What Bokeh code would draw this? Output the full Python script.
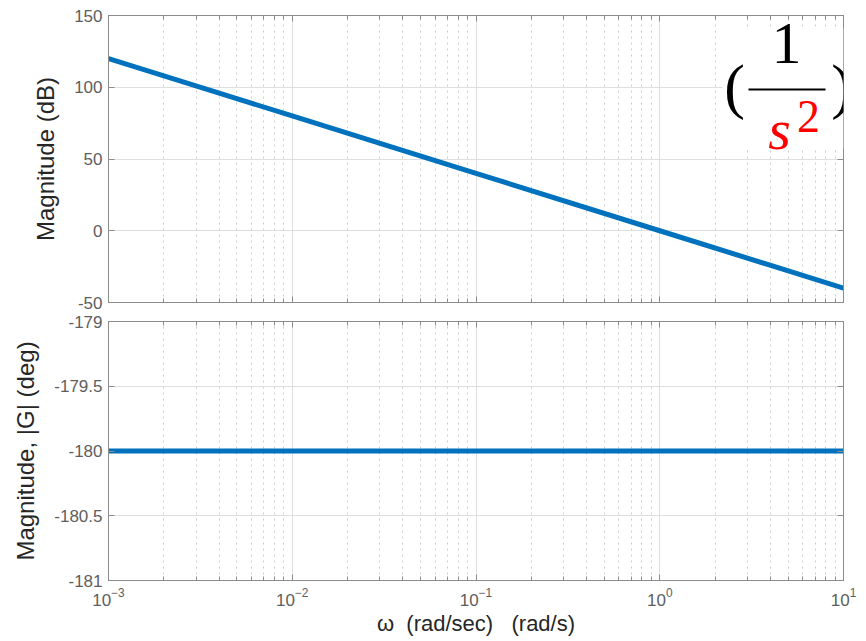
from bokeh.plotting import figure
from bokeh.layouts import column
from bokeh.models import (FixedTicker, LogAxis, LinearAxis, Label, BoxAnnotation,
                          LogTicker, Range1d)
from bokeh.embed import file_html
from bokeh.resources import INLINE

# ---- data ----
omega = [1e-3, 1e-2, 1e-1, 1e0, 1e1]
mag_db = [120, 80, 40, 0, -40]
phase_deg = [-180, -180, -180, -180, -180]
mag_ticks = [-50, 0, 50, 100, 150]
mag_tick_labels = ["-50", "0", "50", "100", "150"]
phase_ticks = [-181, -180.5, -180, -179.5, -179]
phase_tick_labels = ["-181", "-180.5", "-180", "-179.5", "-179"]

LINE = "#0072BD"
AXC = "#8c8c8c"
TICKC = "#5e5e5e"
LABC = "#262626"
FONT = "Liberation Sans"


def hide_labels(ax):
    ax.major_label_text_font_size = "1px"
    ax.major_label_text_alpha = 0
    ax.major_label_standoff = 0


def base_style(ax):
    ax.axis_line_color = AXC
    ax.major_tick_line_color = AXC
    ax.minor_tick_line_color = AXC
    ax.major_tick_in = 6
    ax.major_tick_out = 0
    ax.minor_tick_in = 4
    ax.minor_tick_out = 0
    ax.major_label_text_color = TICKC
    ax.major_label_text_font = FONT
    ax.major_label_text_font_size = "17px"
    ax.axis_label_text_color = LABC
    ax.axis_label_text_font = FONT
    ax.axis_label_text_font_style = "normal"


def build(yrange, frame_h, top, bottom, yticks, ylabels, ylabel, show_x, x_range=None):
    p = figure(x_axis_type="log",
               x_range=x_range if x_range is not None else Range1d(1e-3, 10),
               y_range=yrange, frame_width=735, frame_height=frame_h,
               output_backend="svg", toolbar_location=None,
               min_border_left=108, min_border_right=15,
               min_border_top=top, min_border_bottom=bottom)
    ax_top = LogAxis()
    ax_right = LinearAxis()
    p.add_layout(ax_top, "above")
    p.add_layout(ax_right, "right")
    ax_bottom = p.below[0]
    ax_left = p.left[0]
    for ax in (ax_top, ax_right, ax_bottom, ax_left):
        base_style(ax)
    for ax in (ax_top, ax_bottom):
        ax.ticker = LogTicker(num_minor_ticks=10)
    for ax in (ax_left, ax_right):
        ax.ticker = FixedTicker(ticks=yticks)
        ax.major_label_overrides = {t: l for t, l in zip(yticks, ylabels)}
        ax.minor_tick_line_color = None
    p.ygrid.ticker = FixedTicker(ticks=yticks)
    ax_left.axis_label = ylabel
    ax_left.axis_label_text_font_size = "24px"
    ax_left.axis_label_standoff = 12
    ax_left.major_label_standoff = 6
    hide_labels(ax_top)
    hide_labels(ax_right)
    if not show_x:
        hide_labels(ax_bottom)
    else:
        ax_bottom.major_label_standoff = 7
    p.xgrid.grid_line_color = "#dedede"
    p.xgrid.minor_grid_line_color = "#cccccc"
    p.xgrid.minor_grid_line_dash = "2 4"
    p.ygrid.grid_line_color = "#dedede"
    p.outline_line_color = AXC
    return p, ax_bottom


# ---- top: magnitude ----
p1, _ = build(Range1d(-50, 150), 287, 15, 10, mag_ticks, mag_tick_labels,
              "Magnitude (dB)", False)
p1.line(omega, mag_db, line_color=LINE, line_width=5)


def X(px):
    return 10 ** (-3 + (px - 108) / 183.75)


def Y(py):
    return 150 - (py - 15) * 200 / 287


p1.add_layout(BoxAnnotation(left=X(722), right=X(843), top=Y(28), bottom=Y(148),
                            fill_color="white", fill_alpha=1, line_color=None))
p1.add_layout(BoxAnnotation(left=X(748), right=X(825), top=Y(88), bottom=Y(90),
                            fill_color="black", fill_alpha=1, line_color=None))
SER = "Liberation Serif"
p1.add_layout(Label(x=X(734), y=Y(85), text="(", text_font=SER, text_font_size="62px",
                    text_align="center", text_baseline="middle", text_color="black"))
p1.add_layout(Label(x=X(841), y=Y(85), text=")", text_font=SER, text_font_size="62px",
                    text_align="center", text_baseline="middle", text_color="black"))
p1.add_layout(Label(x=X(786), y=Y(43), text="1", text_font=SER, text_font_size="60px",
                    text_align="center", text_baseline="middle", text_color="black"))
p1.add_layout(Label(x=X(779), y=Y(129), text="s", text_font=SER, text_font_size="58px",
                    text_font_style="italic",
                    text_align="center", text_baseline="middle", text_color="red"))
p1.add_layout(Label(x=X(808), y=Y(116), text="2", text_font=SER, text_font_size="46px",
                    text_align="center", text_baseline="middle", text_color="red"))

# ---- bottom: phase ----
p2, xb = build(Range1d(-181, -179), 259, 9, 58, phase_ticks, phase_tick_labels,
               "Magnitude, |G| (deg)", True, x_range=p1.x_range)
p2.line(omega, phase_deg, line_color=LINE, line_width=5)
xb.axis_label = "ω\u00a0 (rad/sec)\u00a0\u00a0 (rad/s)"
xb.axis_label_text_font_size = "22px"
xb.axis_label_standoff = 2

layout = column(p1, p2, spacing=0)
open("out.html", "w").write(file_html(layout, INLINE))
